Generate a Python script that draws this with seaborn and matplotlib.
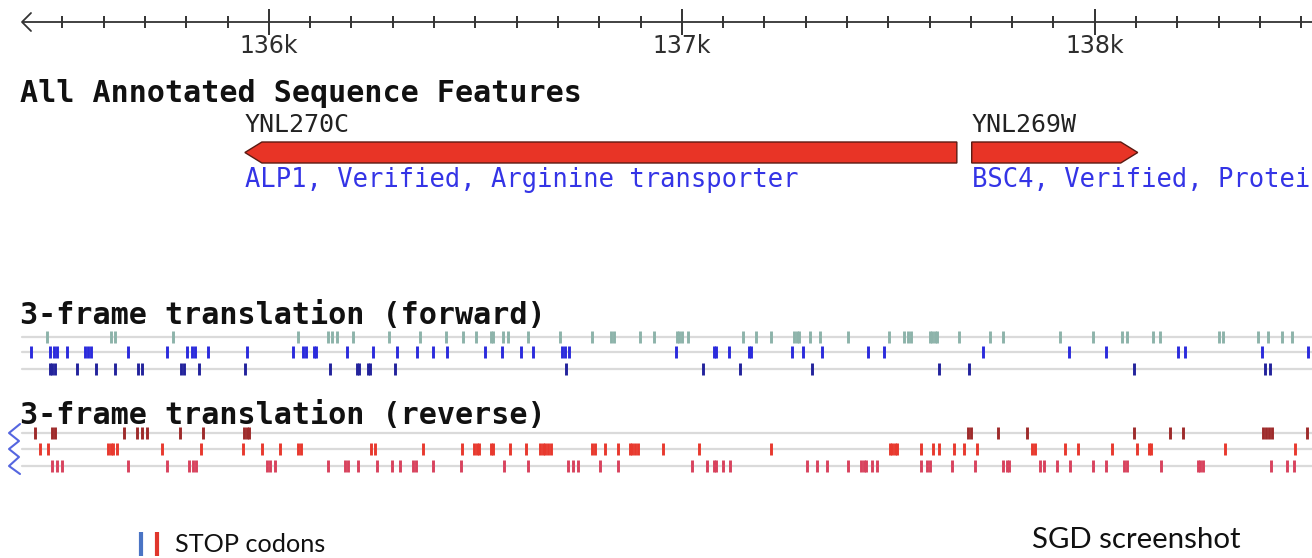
import matplotlib
matplotlib.use("Agg")
import matplotlib.pyplot as plt
from matplotlib.patches import Polygon
import pandas as pd
import seaborn as sns

# visible window of chromosome XIV (bp)
view_start = 135349
view_end = 138526
major_ticks = [136000, 137000, 138000]
major_labels = ["136k", "137k", "138k"]
minor_step = 100

# annotated features
gene_names = ["YNL270C", "YNL269W"]
gene_desc = ["ALP1, Verified, Arginine transporter", "BSC4, Verified, Protei"]
gene_start = [135942, 137702]
gene_end = [137666, 138104]
gene_strand = ["-", "+"]

fwd1 = [135463, 135618, 135627, 135768, 136071, 136143, 136153, 136165, 136204, 136291,
        136366, 136429, 136470, 136502, 136538, 136543, 136567, 136579, 136627, 136705,
        136782, 136828, 136836, 136899, 136933, 136988, 136994, 137000, 137015, 137148,
        137180, 137216, 137272, 137278, 137284, 137310, 137335, 137402, 137502, 137538,
        137548, 137555, 137600, 137606, 137612, 137618, 137671, 137746, 137778, 137916,
        137996, 138066, 138078, 138141, 138158, 138301, 138310, 138395, 138419, 138453,
        138477]
fwd2 = [135424, 135470, 135480, 135487, 135511, 135555, 135562, 135569, 135659, 135753,
        135802, 135814, 135821, 135853, 135947, 136058, 136083, 136090, 136109, 136114,
        136189, 136252, 136310, 136359, 136397, 136431, 136523, 136564, 136610, 136640,
        136710, 136717, 136727, 136986, 137078, 137083, 137114, 137163, 137167, 137267,
        137293, 137339, 137451, 137489, 137729, 137937, 138027, 138201, 138218, 138405,
        138516]
fwd3 = [135470, 135476, 135482, 135535, 135581, 135627, 135683, 135693, 135787, 135795,
        135831, 135942, 136148, 136213, 136219, 136240, 136245, 136305, 136719, 137051,
        137141, 137315, 137623, 137695, 138095, 138412, 138424]
rev1 = [135434, 135475, 135482, 135649, 135681, 135693, 135705, 135785, 135841, 135940,
        135946, 135952, 137693, 137700, 137766, 137836, 138095, 138182, 138213, 138407,
        138414, 138422, 138429, 138514]
rev2 = [135446, 135465, 135611, 135617, 135623, 135632, 135741, 135836, 135937, 135983,
        136027, 136071, 136077, 136247, 136257, 136373, 136468, 136497, 136503, 136509,
        136537, 136543, 136584, 136623, 136657, 136663, 136669, 136677, 136683, 136782,
        136789, 136814, 136845, 136874, 136880, 136887, 136893, 136954, 137042, 137216,
        137504, 137510, 137516, 137521, 137579, 137608, 137623, 137659, 137683, 137715,
        137848, 137855, 137928, 137959, 138041, 138102, 138131, 138137, 138315, 138485]
rev3 = [135475, 135487, 135499, 135659, 135753, 135807, 135816, 135824, 135995, 136003,
        136015, 136143, 136184, 136192, 136216, 136262, 136298, 136318, 136350, 136356,
        136397, 136465, 136569, 136627, 136724, 136736, 136749, 136802, 136845, 137025,
        137061, 137078, 137084, 137100, 137117, 137303, 137327, 137351, 137402, 137434,
        137440, 137446, 137460, 137472, 137579, 137594, 137601, 137654, 137710, 137778,
        137787, 137793, 137867, 137877, 137908, 137940, 137996, 138027, 138071, 138077,
        138160, 138250, 138256, 138262, 138427, 138465, 138482]

frames = ["fwd1", "fwd2", "fwd3", "rev1", "rev2", "rev3"]
stops = [fwd1, fwd2, fwd3, rev1, rev2, rev3]

# layout (vertical positions in pixels from the top)
row_y = {"fwd1": 337, "fwd2": 352, "fwd3": 369, "rev1": 433, "rev2": 449, "rev3": 466}
frame_colors = {"fwd1": "#8db3aa", "fwd2": "#2b2bdc", "fwd3": "#23239c",
                "rev1": "#9e2b2b", "rev2": "#e8392e", "rev3": "#d8435e"}

W, H = 1312, 558
bp_per_px = (view_end - view_start) / W


def at(px):
    # pixel column -> bp, for placing decorations
    return view_start + px * bp_per_px


df = pd.DataFrame({"frame": [f for f, s in zip(frames, stops) for _ in s],
                   "pos": [p for s in stops for p in s]})
df["row"] = df["frame"].map(row_y)

sns.set_style("white")
plt.rcParams["font.family"] = ["DejaVu Sans"]

fig = plt.figure(figsize=(W / 100, H / 100), dpi=100)
ax = fig.add_axes([0, 0, 1, 1])

# ruler
ax.plot([at(22), view_end], [22, 22], color="#333333", lw=1.3, solid_capstyle="butt")
ax.plot([at(31), at(22), at(31)], [13, 22, 31], color="#333333", lw=1.3)
minor = [t for t in range(135500, view_end, minor_step) if t not in major_ticks]
ax.vlines(minor, 16, 28, color="#333333", lw=1.4)
ax.vlines(major_ticks, 9, 35, color="#333333", lw=1.4)
for t, lab in zip(major_ticks, major_labels):
    ax.text(t, 46, lab, ha="center", va="center", fontsize=17, color="#2e2e2e")

mono = "DejaVu Sans Mono"
ax.text(at(20), 93, "All Annotated Sequence Features", family=mono, weight="bold",
        fontsize=21.6, va="center", color="#111111")

# gene arrows
head = 17 * bp_per_px
for name, desc, s, e, strand in zip(gene_names, gene_desc, gene_start, gene_end, gene_strand):
    top, bot, mid = 142, 163, 152.5
    if strand == "-":
        pts = [(s, mid), (s + head, top), (e, top), (e, bot), (s + head, bot)]
    else:
        pts = [(s, top), (e - head, top), (e, mid), (e - head, bot), (s, bot)]
    ax.add_patch(Polygon(pts, closed=True, facecolor="#e83426", edgecolor="#5a1a12", lw=1))
    ax.text(s, 125, name, family=mono, fontsize=18, va="center", color="#222222")
    ax.text(s, 180, desc, family=mono, fontsize=18.4, va="center", color="#3434e6")

# 3-frame translation tracks
ax.text(at(20), 316, "3-frame translation (forward)", family=mono, weight="bold",
        fontsize=21.7, va="center", color="#111111")
ax.text(at(20), 415, "3-frame translation (reverse)", family=mono, weight="bold",
        fontsize=21.7, va="center", color="#111111")
for f in frames:
    ax.plot([at(22), view_end], [row_y[f], row_y[f]], color="#dadada", lw=1.6, zorder=1)

sns.scatterplot(data=df, x="pos", y="row", hue="frame", palette=frame_colors,
                marker="|", s=85, linewidth=2.1, legend=False, ax=ax, zorder=3)

# reverse strand squiggle
ax.plot([at(20), at(9), at(19), at(9), at(19), at(9), at(20)],
        [424, 433, 441, 449, 457, 466, 474], color="#5566e0", lw=1.5)

# bottom annotations
ax.vlines([at(141)], 532, 556, color="#4a74c4", lw=3)
ax.vlines([at(157)], 532, 556, color="#e0362c", lw=3)
ax.text(at(175), 545, "STOP codons", family=["Lato", "DejaVu Sans"], fontsize=18.2,
        va="center", color="#111111")
ax.text(at(1032), 540, "SGD screenshot", family=["Lato", "DejaVu Sans"], fontsize=21.2,
        va="center", color="#111111")

ax.set_xlim(view_start, view_end)
ax.set_ylim(H, 0)
ax.axis("off")
fig.savefig("out.png", dpi=100)
